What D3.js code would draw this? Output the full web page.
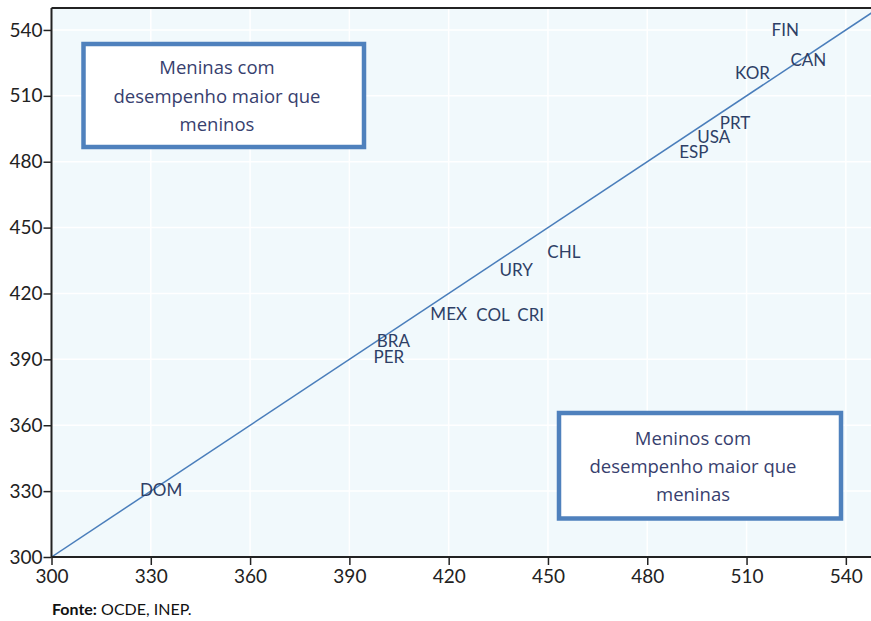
<!DOCTYPE html>
<html><head><meta charset="utf-8">
<script src="https://cdn.jsdelivr.net/npm/d3@7"></script>
<style>body{margin:0;background:#fff}svg{display:block}</style>
</head><body>
<svg id="c" width="871" height="621"></svg>
<script>
const countries = ["FIN","CAN","KOR","PRT","USA","ESP","CHL","URY","MEX","COL","CRI","BRA","PER","DOM"];
const boys  = [521.7,528.7,511.8,506.5,500.1,494.1,454.8,440.4,420.0,433.4,444.8,403.3,401.9,333.1];
const girls = [540.0,526.7,520.6,497.7,491.3,484.8,439.2,430.7,410.9,410.4,410.4,398.5,391.4,330.6];
const xTicks = [300,330,360,390,420,450,480,510,540];
const yTicks = [300,330,360,390,420,450,480,510,540];
const boxTop = ["Meninas com","desempenho maior que","meninos"];
const boxBottom = ["Meninos com","desempenho maior que","meninas"];
const source = ["Fonte:"," OCDE, INEP."];

const FONT = "Lato, 'Open Sans', sans-serif";
const BOXFONT = "'Open Sans', Lato, sans-serif";
const svg = d3.select("#c");
const L = 51.5, R = 871, T = 8, B = 557;
const x = d3.scaleLinear().domain([300, 547.6]).range([L, R]);
const y = d3.scaleLinear().domain([300, 550]).range([B, T]);

svg.append("rect").attr("x",L).attr("y",T).attr("width",R-L).attr("height",B-T).attr("fill","#f1f9fc");

const g = svg.append("g");
g.selectAll("line.vg").data(xTicks).join("line").attr("class","vg")
  .attr("x1",d=>x(d)).attr("x2",d=>x(d)).attr("y1",T).attr("y2",B)
  .attr("stroke","#fff").attr("stroke-width",1.5);
g.selectAll("line.hg").data(yTicks).join("line").attr("class","hg")
  .attr("x1",L).attr("x2",R).attr("y1",d=>y(d)).attr("y2",d=>y(d))
  .attr("stroke","#fff").attr("stroke-width",1.5);

svg.append("clipPath").attr("id","clip").append("rect").attr("x",L).attr("y",T).attr("width",R-L).attr("height",B-T);
svg.append("line").attr("clip-path","url(#clip)")
  .attr("x1",x(300)).attr("y1",y(300)).attr("x2",x(560)).attr("y2",y(560))
  .attr("stroke","#4a7ebb").attr("stroke-width",1.5);

// axes
const xAxis = svg.append("g").attr("transform",`translate(0,${B})`)
  .call(d3.axisBottom(x).tickValues(xTicks).tickSize(8).tickPadding(5));
const yAxis = svg.append("g").attr("transform",`translate(${L},0)`)
  .call(d3.axisLeft(y).tickValues(yTicks).tickSize(8).tickPadding(1));
[xAxis,yAxis].forEach(a=>{
  a.select(".domain").remove();
  a.selectAll(".tick line").attr("stroke","#222").attr("stroke-width",1.5);
  a.selectAll(".tick text").attr("fill","#222").style("font-family",FONT).style("font-size","19px");
});
svg.append("line").attr("x1",L).attr("x2",R).attr("y1",B).attr("y2",B).attr("stroke","#222").attr("stroke-width",2);
svg.append("line").attr("x1",L).attr("x2",L).attr("y1",T).attr("y2",B).attr("stroke","#222").attr("stroke-width",2);
svg.append("line").attr("x1",L).attr("x2",R).attr("y1",T).attr("y2",T).attr("stroke","#222").attr("stroke-width",2);

// country labels
svg.selectAll("text.lab").data(countries).join("text").attr("class","lab")
  .attr("x",(d,i)=>x(boys[i])).attr("y",(d,i)=>y(girls[i]))
  .attr("text-anchor","middle").attr("dominant-baseline","central")
  .attr("fill","#2e3f66").style("font-family",FONT).style("font-size","17px")
  .text(d=>d);

// annotation boxes
function box(x0,y0,x1,y1,cx,lines,ly){
  svg.append("rect").attr("x",x0).attr("y",y0).attr("width",x1-x0).attr("height",y1-y0)
    .attr("fill","#fff").attr("stroke","#4f81bd").attr("stroke-width",4.5);
  svg.append("g").selectAll("text").data(lines).join("text")
    .attr("x",cx).attr("y",(d,i)=>ly[i]).attr("text-anchor","middle").attr("dominant-baseline","central")
    .attr("fill","#37406e").style("font-family",BOXFONT).style("font-size","18.5px").text(d=>d);
}
box(83.5,44,364,147,217,boxTop,[66.7,95.5,123]);
box(559,413,841,518.5,693,boxBottom,[437.7,465,493]);

// source
const src = svg.append("text").attr("x",52).attr("y",615).attr("fill","#111")
  .style("font-family",FONT).style("font-size","16px");
src.append("tspan").attr("font-weight","bold").text(source[0]);
src.append("tspan").text(source[1]);
</script>
</body></html>
